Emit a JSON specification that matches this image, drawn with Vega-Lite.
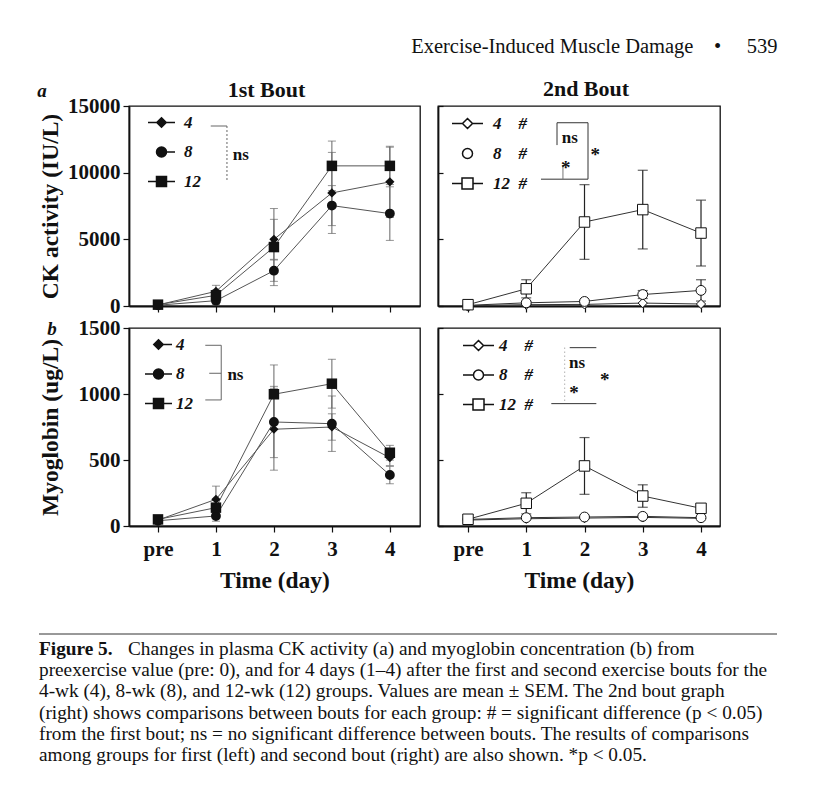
{
  "$schema": "https://vega.github.io/schema/vega-lite/v6.json",
  "background": "white",
  "padding": {"left": 37, "top": 37, "right": 5, "bottom": 5},
  "title": {"text": "Exercise-Induced Muscle Damage\u00a0\u00a0\u00a0\u00a0•\u00a0\u00a0\u00a0\u00a0\u00a0539", "anchor": "end", "frame": "bounds", "fontSize": 20.5, "fontWeight": "normal", "font": "Liberation Serif", "color": "#111", "offset": 20},
  "datasets": {
    "pts": [
      {"bout": "1st", "measure": "CK", "group": "4", "day": 0, "value": 80, "sem": 0},
      {"bout": "1st", "measure": "CK", "group": "4", "day": 1, "value": 1100, "sem": 450},
      {"bout": "1st", "measure": "CK", "group": "4", "day": 2, "value": 5000, "sem": 1500},
      {"bout": "1st", "measure": "CK", "group": "4", "day": 3, "value": 8480, "sem": 3040},
      {"bout": "1st", "measure": "CK", "group": "4", "day": 4, "value": 9310, "sem": 2670},
      {"bout": "1st", "measure": "CK", "group": "8", "day": 0, "value": 60, "sem": 0},
      {"bout": "1st", "measure": "CK", "group": "8", "day": 1, "value": 400, "sem": 300},
      {"bout": "1st", "measure": "CK", "group": "8", "day": 2, "value": 2650, "sem": 800},
      {"bout": "1st", "measure": "CK", "group": "8", "day": 3, "value": 7530, "sem": 1500},
      {"bout": "1st", "measure": "CK", "group": "8", "day": 4, "value": 6930, "sem": 2010},
      {"bout": "1st", "measure": "CK", "group": "12", "day": 0, "value": 100, "sem": 0},
      {"bout": "1st", "measure": "CK", "group": "12", "day": 1, "value": 800, "sem": 400},
      {"bout": "1st", "measure": "CK", "group": "12", "day": 2, "value": 4420, "sem": 2890},
      {"bout": "1st", "measure": "CK", "group": "12", "day": 3, "value": 10510, "sem": 1860},
      {"bout": "1st", "measure": "CK", "group": "12", "day": 4, "value": 10510, "sem": 1400},
      {"bout": "2nd", "measure": "CK", "group": "4", "day": 0, "value": 30, "sem": 0},
      {"bout": "2nd", "measure": "CK", "group": "4", "day": 1, "value": 100, "sem": 0},
      {"bout": "2nd", "measure": "CK", "group": "4", "day": 2, "value": 120, "sem": 0},
      {"bout": "2nd", "measure": "CK", "group": "4", "day": 3, "value": 220, "sem": 0},
      {"bout": "2nd", "measure": "CK", "group": "4", "day": 4, "value": 150, "sem": 0},
      {"bout": "2nd", "measure": "CK", "group": "8", "day": 0, "value": 50, "sem": 0},
      {"bout": "2nd", "measure": "CK", "group": "8", "day": 1, "value": 240, "sem": 100},
      {"bout": "2nd", "measure": "CK", "group": "8", "day": 2, "value": 340, "sem": 100},
      {"bout": "2nd", "measure": "CK", "group": "8", "day": 3, "value": 860, "sem": 300},
      {"bout": "2nd", "measure": "CK", "group": "8", "day": 4, "value": 1170, "sem": 800},
      {"bout": "2nd", "measure": "CK", "group": "12", "day": 0, "value": 100, "sem": 0},
      {"bout": "2nd", "measure": "CK", "group": "12", "day": 1, "value": 1290, "sem": 680},
      {"bout": "2nd", "measure": "CK", "group": "12", "day": 2, "value": 6300, "sem": 2800},
      {"bout": "2nd", "measure": "CK", "group": "12", "day": 3, "value": 7230, "sem": 2950},
      {"bout": "2nd", "measure": "CK", "group": "12", "day": 4, "value": 5470, "sem": 2470},
      {"bout": "1st", "measure": "Mb", "group": "4", "day": 0, "value": 45, "sem": 0},
      {"bout": "1st", "measure": "Mb", "group": "4", "day": 1, "value": 202, "sem": 100},
      {"bout": "1st", "measure": "Mb", "group": "4", "day": 2, "value": 733, "sem": 310},
      {"bout": "1st", "measure": "Mb", "group": "4", "day": 3, "value": 750, "sem": 100},
      {"bout": "1st", "measure": "Mb", "group": "4", "day": 4, "value": 517, "sem": 60},
      {"bout": "1st", "measure": "Mb", "group": "8", "day": 0, "value": 40, "sem": 0},
      {"bout": "1st", "measure": "Mb", "group": "8", "day": 1, "value": 76, "sem": 40},
      {"bout": "1st", "measure": "Mb", "group": "8", "day": 2, "value": 788, "sem": 270},
      {"bout": "1st", "measure": "Mb", "group": "8", "day": 3, "value": 775, "sem": 210},
      {"bout": "1st", "measure": "Mb", "group": "8", "day": 4, "value": 386, "sem": 66},
      {"bout": "1st", "measure": "Mb", "group": "12", "day": 0, "value": 50, "sem": 0},
      {"bout": "1st", "measure": "Mb", "group": "12", "day": 1, "value": 139, "sem": 60},
      {"bout": "1st", "measure": "Mb", "group": "12", "day": 2, "value": 998, "sem": 222},
      {"bout": "1st", "measure": "Mb", "group": "12", "day": 3, "value": 1078, "sem": 185},
      {"bout": "1st", "measure": "Mb", "group": "12", "day": 4, "value": 555, "sem": 56},
      {"bout": "2nd", "measure": "Mb", "group": "4", "day": 0, "value": 45, "sem": 0},
      {"bout": "2nd", "measure": "Mb", "group": "4", "day": 1, "value": 55, "sem": 0},
      {"bout": "2nd", "measure": "Mb", "group": "4", "day": 2, "value": 60, "sem": 0},
      {"bout": "2nd", "measure": "Mb", "group": "4", "day": 3, "value": 65, "sem": 0},
      {"bout": "2nd", "measure": "Mb", "group": "4", "day": 4, "value": 58, "sem": 0},
      {"bout": "2nd", "measure": "Mb", "group": "8", "day": 0, "value": 50, "sem": 0},
      {"bout": "2nd", "measure": "Mb", "group": "8", "day": 1, "value": 63, "sem": 0},
      {"bout": "2nd", "measure": "Mb", "group": "8", "day": 2, "value": 68, "sem": 0},
      {"bout": "2nd", "measure": "Mb", "group": "8", "day": 3, "value": 73, "sem": 0},
      {"bout": "2nd", "measure": "Mb", "group": "8", "day": 4, "value": 63, "sem": 0},
      {"bout": "2nd", "measure": "Mb", "group": "12", "day": 0, "value": 51, "sem": 0},
      {"bout": "2nd", "measure": "Mb", "group": "12", "day": 1, "value": 172, "sem": 80},
      {"bout": "2nd", "measure": "Mb", "group": "12", "day": 2, "value": 455, "sem": 215},
      {"bout": "2nd", "measure": "Mb", "group": "12", "day": 3, "value": 227, "sem": 85},
      {"bout": "2nd", "measure": "Mb", "group": "12", "day": 4, "value": 134, "sem": 0}
    ]
  },
  "spacing": 40,
  "vconcat": [
    {
      "spacing": -1,
      "vconcat": [
        {
          "title": {"text": "a", "anchor": "start", "frame": "bounds", "fontSize": 19, "fontStyle": "italic", "fontWeight": "bold", "font": "Liberation Serif", "color": "#111", "offset": -23},
          "spacing": 15,
          "hconcat": [
            {
              "width": 291, "height": 200,
              "title": {"text": "1st Bout", "fontSize": 22, "fontWeight": "bold", "font": "Liberation Serif", "color": "#111", "offset": -7, "dx": -8},
              "data": {"name": "pts"},
              "layer": [
                {"transform": [{"filter": "datum.bout == '1st' && datum.measure == 'CK' && datum.sem > 0"}],
                 "mark": {"type": "errorbar", "ticks": {"size": 8}, "color": "#666", "thickness": 1},
                 "encoding": {"x": {"field": "day", "type": "quantitative", "title": null}, "y": {"field": "value", "type": "quantitative", "title": "CK activity (IU/L)"}, "yError": {"field": "sem"}, "detail": {"field": "group"}}},
                {"transform": [{"filter": "datum.bout == '1st' && datum.measure == 'CK'"}],
                 "mark": {"type": "line", "color": "#555", "strokeWidth": 1},
                 "encoding": {
                   "x": {"field": "day", "type": "quantitative", "title": null, "scale": {"domain": [-0.5, 4.52], "nice": false, "zero": false},
                         "axis": {"values": [0, 1, 2, 3, 4], "format": "d", "labels": false, "tickSize": 6}},
                   "y": {"field": "value", "type": "quantitative", "title": "CK activity (IU/L)", "scale": {"domain": [0, 15000], "nice": false},
                         "axis": {"values": [0, 5000, 10000, 15000], "format": "d", "tickSize": 6, "labelPadding": 3, "minExtent": 58, "maxExtent": 58, "titlePadding": 9}},
                   "detail": {"field": "group"}}},
                {"transform": [{"filter": "datum.bout == '1st' && datum.measure == 'CK'"}],
                 "mark": {"type": "point", "filled": true, "color": "#111", "opacity": 1, "strokeWidth": 0},
                 "encoding": {
                   "x": {"field": "day", "type": "quantitative", "title": null}, "y": {"field": "value", "type": "quantitative", "title": "CK activity (IU/L)"},
                   "shape": {"field": "group", "scale": {"domain": ["4", "8", "12"], "range": ["diamond", "circle", "square"]}, "legend": null},
                   "size": {"field": "group", "scale": {"domain": ["4", "8", "12"], "range": [85, 110, 105]}, "legend": null}}},
                {"transform": [{"filter": "datum.bout == '1st' && datum.measure == 'CK'"}],
                 "mark": {"type": "point", "filled": true, "fill": "#111", "stroke": "#111", "strokeWidth": 1, "opacity": 0},
                 "encoding": {
                   "x": {"field": "day", "type": "quantitative", "title": null}, "y": {"field": "value", "type": "quantitative", "title": "CK activity (IU/L)"},
                   "shape": {"field": "group", "scale": {"domain": ["4", "8", "12"], "range": [
                       "M-2.7 0H-0.95M0.95 0H2.7M0 -0.95L0.95 0L0 0.95L-0.95 0Z",
                       "M1 0H2.7M1 0A1 1 0 1 1 -1 0A1 1 0 1 1 1 0Z",
                       "M-2.7 0H-1M1 0H2.7M-1 -1H1V1H-1Z"]},
                     "legend": {"orient": "none", "legendX": 24, "legendY": 8, "title": null, "padding": 0,
                       "labelFont": "Liberation Serif", "labelFontSize": 17, "labelFontStyle": "italic", "labelFontWeight": "bold", "labelColor": "#111",
                       "symbolSize": 100, "labelOffset": 14, "rowPadding": 11.5,
                       "encode": {"symbols": {"stroke": {"value": "#222"}, "strokeWidth": {"value": 1}, "fill": {"value": "#111"}, "opacity": {"value": 1}}}}}}},
                {"data": {"values": [{}]}, "mark": {"type": "rule", "color": "#666", "strokeWidth": 1},
                 "encoding": {"x": {"datum": 0.91}, "x2": {"datum": 1.19}, "y": {"datum": 13500}}},
                {"data": {"values": [{}]}, "mark": {"type": "rule", "color": "#666", "strokeWidth": 1, "strokeDash": [2, 2]},
                 "encoding": {"x": {"datum": 1.19}, "y": {"datum": 13500}, "y2": {"datum": 9440}}},
                {"data": {"values": [{}]}, "mark": {"type": "text", "text": "ns", "font": "Liberation Serif", "fontSize": 17, "fontWeight": "bold", "align": "center", "baseline": "middle", "color": "#111"},
                 "encoding": {"x": {"datum": 1.43}, "y": {"datum": 11300}}}
              ],
              "resolve": {"scale": {"shape": "independent"}}
            },
            {
              "width": 282, "height": 200,
              "title": {"text": "2nd Bout", "fontSize": 22, "fontWeight": "bold", "font": "Liberation Serif", "color": "#111", "offset": 4, "dx": 7},
              "data": {"name": "pts"},
              "layer": [
                {"transform": [{"filter": "datum.bout == '2nd' && datum.measure == 'CK' && datum.sem > 0"}],
                 "mark": {"type": "errorbar", "ticks": {"size": 10}, "color": "#222", "thickness": 1.2},
                 "encoding": {"x": {"field": "day", "type": "quantitative", "title": null}, "y": {"field": "value", "type": "quantitative", "title": null}, "yError": {"field": "sem"}, "detail": {"field": "group"}}},
                {"transform": [{"filter": "datum.bout == '2nd' && datum.measure == 'CK'"}],
                 "mark": {"type": "line", "color": "#333", "strokeWidth": 1},
                 "encoding": {
                   "x": {"field": "day", "type": "quantitative", "title": null, "scale": {"domain": [-0.515, 4.326], "nice": false, "zero": false},
                         "axis": {"values": [0, 1, 2, 3, 4], "format": "d", "labels": false, "tickSize": 6}},
                   "y": {"field": "value", "type": "quantitative", "title": null, "scale": {"domain": [0, 15000], "nice": false},
                         "axis": {"values": [0, 5000, 10000, 15000], "format": "d", "labels": false, "tickSize": -5}},
                   "detail": {"field": "group"}}},
                {"transform": [{"filter": "datum.bout == '2nd' && datum.measure == 'CK'"}],
                 "mark": {"type": "point", "filled": true, "fill": "white", "stroke": "#111", "strokeWidth": 1, "opacity": 1},
                 "encoding": {
                   "x": {"field": "day", "type": "quantitative", "title": null}, "y": {"field": "value", "type": "quantitative", "title": null},
                   "shape": {"field": "group", "scale": {"domain": ["4", "8", "12"], "range": ["diamond", "circle", "square"]}, "legend": null},
                   "size": {"field": "group", "scale": {"domain": ["4", "8", "12"], "range": [100, 120, 130]}, "legend": null}}},
                {"transform": [{"filter": "datum.bout == '2nd' && datum.measure == 'CK'"}],
                 "mark": {"type": "point", "filled": true, "fill": "white", "stroke": "#111", "strokeWidth": 1, "opacity": 0},
                 "encoding": {
                   "x": {"field": "day", "type": "quantitative", "title": null}, "y": {"field": "value", "type": "quantitative", "title": null},
                   "shape": {"field": "group", "scale": {"domain": ["4", "8", "12"], "range": [
                       "M-3.1 0H-1M1 0H3.1M0 -1L1 0L0 1L-1 0Z",
                       "M1 0A1 1 0 1 1 -1 0A1 1 0 1 1 1 0Z",
                       "M-3.1 0H-1.1M1.1 0H3.1M-1.1 -1.1H1.1V1.1H-1.1Z"]},
                     "legend": {"orient": "none", "legendX": 21, "legendY": 9, "title": null, "padding": 0,
                       "labelExpr": "datum.label == '12' ? '12\u00a0\u00a0#' : datum.label + '\u00a0\u00a0\u00a0\u00a0#'",
                       "labelFont": "Liberation Serif", "labelFontSize": 17, "labelFontStyle": "italic", "labelFontWeight": "bold", "labelColor": "#111",
                       "symbolSize": 100, "labelOffset": 17, "rowPadding": 12,
                       "encode": {"symbols": {"stroke": {"value": "#222"}, "strokeWidth": {"value": 1}, "fill": {"value": "white"}, "opacity": {"value": 1}}}}}}},
                {"data": {"values": [{}]}, "mark": {"type": "rule", "color": "#333", "strokeWidth": 1},
                 "encoding": {"x": {"datum": 1.528}, "y": {"datum": 13744}, "y2": {"datum": 12068}}},
                {"data": {"values": [{}]}, "mark": {"type": "rule", "color": "#333", "strokeWidth": 1},
                 "encoding": {"x": {"datum": 1.528}, "x2": {"datum": 2.06}, "y": {"datum": 13744}}},
                {"data": {"values": [{}]}, "mark": {"type": "rule", "color": "#333", "strokeWidth": 1},
                 "encoding": {"x": {"datum": 2.06}, "y": {"datum": 13744}, "y2": {"datum": 9511}}},
                {"data": {"values": [{}]}, "mark": {"type": "rule", "color": "#333", "strokeWidth": 1},
                 "encoding": {"x": {"datum": 1.253}, "x2": {"datum": 2.06}, "y": {"datum": 9511}}},
                {"data": {"values": [{}]}, "mark": {"type": "rule", "color": "#777", "strokeWidth": 1},
                 "encoding": {"x": {"datum": 1.63}, "y": {"datum": 10564}, "y2": {"datum": 9511}}},
                {"data": {"values": [{}]}, "mark": {"type": "text", "text": "ns", "font": "Liberation Serif", "fontSize": 17, "fontWeight": "bold", "align": "center", "baseline": "middle", "color": "#111"},
                 "encoding": {"x": {"datum": 1.746}, "y": {"datum": 12571}}},
                {"data": {"values": [{}]}, "mark": {"type": "text", "text": "*", "font": "Liberation Serif", "fontSize": 19, "fontWeight": "bold", "align": "center", "baseline": "middle", "dy": 2, "color": "#111"},
                 "encoding": {"x": {"datum": 2.186}, "y": {"datum": 11443}}},
                {"data": {"values": [{}]}, "mark": {"type": "text", "text": "*", "font": "Liberation Serif", "fontSize": 19, "fontWeight": "bold", "align": "center", "baseline": "middle", "dy": 0, "color": "#111"},
                 "encoding": {"x": {"datum": 1.677}, "y": {"datum": 10316}}}
              ],
              "resolve": {"scale": {"shape": "independent"}}
            }
          ]
        },
        {
          "title": {"text": "b", "anchor": "start", "frame": "bounds", "fontSize": 19, "fontStyle": "italic", "fontWeight": "bold", "font": "Liberation Serif", "color": "#111", "offset": -22.5, "dx": 10},
          "spacing": 15,
          "hconcat": [
            {
              "width": 291, "height": 198,
              "data": {"name": "pts"},
              "layer": [
                {"transform": [{"filter": "datum.bout == '1st' && datum.measure == 'Mb' && datum.sem > 0"}],
                 "mark": {"type": "errorbar", "ticks": {"size": 8}, "color": "#666", "thickness": 1},
                 "encoding": {"x": {"field": "day", "type": "quantitative", "title": "Time (day)"}, "y": {"field": "value", "type": "quantitative", "title": "Myoglobin (ug/L)"}, "yError": {"field": "sem"}, "detail": {"field": "group"}}},
                {"transform": [{"filter": "datum.bout == '1st' && datum.measure == 'Mb'"}],
                 "mark": {"type": "line", "color": "#555", "strokeWidth": 1},
                 "encoding": {
                   "x": {"field": "day", "type": "quantitative", "title": "Time (day)", "scale": {"domain": [-0.5, 4.52], "nice": false, "zero": false},
                         "axis": {"values": [0, 1, 2, 3, 4], "format": "d", "labelExpr": "datum.value == 0 ? 'pre' : datum.label", "tickSize": 6, "labelPadding": 6, "titlePadding": 9}},
                   "y": {"field": "value", "type": "quantitative", "title": "Myoglobin (ug/L)", "scale": {"domain": [0, 1500], "nice": false},
                         "axis": {"values": [0, 500, 1000, 1500], "format": "d", "tickSize": 6, "labelPadding": 3, "minExtent": 58, "maxExtent": 58, "titlePadding": 9}},
                   "detail": {"field": "group"}}},
                {"transform": [{"filter": "datum.bout == '1st' && datum.measure == 'Mb'"}],
                 "mark": {"type": "point", "filled": true, "color": "#111", "opacity": 1, "strokeWidth": 0},
                 "encoding": {
                   "x": {"field": "day", "type": "quantitative", "title": "Time (day)"}, "y": {"field": "value", "type": "quantitative", "title": "Myoglobin (ug/L)"},
                   "shape": {"field": "group", "scale": {"domain": ["4", "8", "12"], "range": ["diamond", "circle", "square"]}, "legend": null},
                   "size": {"field": "group", "scale": {"domain": ["4", "8", "12"], "range": [85, 110, 105]}, "legend": null}}},
                {"transform": [{"filter": "datum.bout == '1st' && datum.measure == 'Mb'"}],
                 "mark": {"type": "point", "filled": true, "fill": "#111", "stroke": "#111", "strokeWidth": 1, "opacity": 0},
                 "encoding": {
                   "x": {"field": "day", "type": "quantitative", "title": "Time (day)"}, "y": {"field": "value", "type": "quantitative", "title": "Myoglobin (ug/L)"},
                   "shape": {"field": "group", "scale": {"domain": ["4", "8", "12"], "range": [
                       "M0.95 0H2.7M0 -0.95L0.95 0L0 0.95L-0.95 0Z",
                       "M-2.7 0H-1M1 0H2.7M1 0A1 1 0 1 1 -1 0A1 1 0 1 1 1 0Z",
                       "M-2.7 0H-1M1 0H2.7M-1 -1H1V1H-1Z"]},
                     "legend": {"orient": "none", "legendX": 21, "legendY": 8, "title": null, "padding": 0,
                       "labelFont": "Liberation Serif", "labelFontSize": 17, "labelFontStyle": "italic", "labelFontWeight": "bold", "labelColor": "#111",
                       "symbolSize": 100, "labelOffset": 9, "rowPadding": 11.5,
                       "encode": {"symbols": {"stroke": {"value": "#222"}, "strokeWidth": {"value": 1}, "fill": {"value": "#111"}, "opacity": {"value": 1}}}}}}},
                {"data": {"values": [{}]}, "mark": {"type": "rule", "color": "#666", "strokeWidth": 1},
                 "encoding": {"x": {"datum": 0.816}, "x2": {"datum": 1.091}, "y": {"datum": 1369}}},
                {"data": {"values": [{}]}, "mark": {"type": "rule", "color": "#666", "strokeWidth": 1},
                 "encoding": {"x": {"datum": 1.091}, "y": {"datum": 1369}, "y2": {"datum": 955}}},
                {"data": {"values": [{}]}, "mark": {"type": "rule", "color": "#666", "strokeWidth": 1},
                 "encoding": {"x": {"datum": 0.816}, "x2": {"datum": 1.091}, "y": {"datum": 955}}},
                {"data": {"values": [{}]}, "mark": {"type": "rule", "color": "#666", "strokeWidth": 1},
                 "encoding": {"x": {"datum": 0.884}, "x2": {"datum": 1.091}, "y": {"datum": 1157}}},
                {"data": {"values": [{}]}, "mark": {"type": "text", "text": "ns", "font": "Liberation Serif", "fontSize": 17, "fontWeight": "bold", "align": "center", "baseline": "middle", "color": "#111"},
                 "encoding": {"x": {"datum": 1.336}, "y": {"datum": 1144}}}
              ],
              "resolve": {"scale": {"shape": "independent"}}
            },
            {
              "width": 282, "height": 198,
              "data": {"name": "pts"},
              "layer": [
                {"transform": [{"filter": "datum.bout == '2nd' && datum.measure == 'Mb' && datum.sem > 0"}],
                 "mark": {"type": "errorbar", "ticks": {"size": 10}, "color": "#222", "thickness": 1.2},
                 "encoding": {"x": {"field": "day", "type": "quantitative", "title": "Time (day)"}, "y": {"field": "value", "type": "quantitative", "title": null}, "yError": {"field": "sem"}, "detail": {"field": "group"}}},
                {"transform": [{"filter": "datum.bout == '2nd' && datum.measure == 'Mb'"}],
                 "mark": {"type": "line", "color": "#333", "strokeWidth": 1},
                 "encoding": {
                   "x": {"field": "day", "type": "quantitative", "title": "Time (day)", "scale": {"domain": [-0.515, 4.326], "nice": false, "zero": false},
                         "axis": {"values": [0, 1, 2, 3, 4], "format": "d", "labelExpr": "datum.value == 0 ? 'pre' : datum.label", "tickSize": 6, "labelPadding": 6, "titlePadding": 9}},
                   "y": {"field": "value", "type": "quantitative", "title": null, "scale": {"domain": [0, 1500], "nice": false},
                         "axis": {"values": [0, 500, 1000, 1500], "format": "d", "labels": false, "tickSize": -5}},
                   "detail": {"field": "group"}}},
                {"transform": [{"filter": "datum.bout == '2nd' && datum.measure == 'Mb'"}],
                 "mark": {"type": "point", "filled": true, "fill": "white", "stroke": "#111", "strokeWidth": 1, "opacity": 1},
                 "encoding": {
                   "x": {"field": "day", "type": "quantitative", "title": "Time (day)"}, "y": {"field": "value", "type": "quantitative", "title": null},
                   "shape": {"field": "group", "scale": {"domain": ["4", "8", "12"], "range": ["diamond", "circle", "square"]}, "legend": null},
                   "size": {"field": "group", "scale": {"domain": ["4", "8", "12"], "range": [100, 120, 130]}, "legend": null}}},
                {"transform": [{"filter": "datum.bout == '2nd' && datum.measure == 'Mb'"}],
                 "mark": {"type": "point", "filled": true, "fill": "white", "stroke": "#111", "strokeWidth": 1, "opacity": 0},
                 "encoding": {
                   "x": {"field": "day", "type": "quantitative", "title": "Time (day)"}, "y": {"field": "value", "type": "quantitative", "title": null},
                   "shape": {"field": "group", "scale": {"domain": ["4", "8", "12"], "range": [
                       "M-3.1 0H-1M1 0H3.1M0 -1L1 0L0 1L-1 0Z",
                       "M-3.1 0H-1M1 0H3.1M1 0A1 1 0 1 1 -1 0A1 1 0 1 1 1 0Z",
                       "M-3.1 0H-1.1M1.1 0H3.1M-1.1 -1.1H1.1V1.1H-1.1Z"]},
                     "legend": {"orient": "none", "legendX": 32, "legendY": 9, "title": null, "padding": 0,
                       "labelExpr": "datum.label == '12' ? '12\u00a0\u00a0#' : datum.label + '\u00a0\u00a0\u00a0\u00a0#'",
                       "labelFont": "Liberation Serif", "labelFontSize": 17, "labelFontStyle": "italic", "labelFontWeight": "bold", "labelColor": "#111",
                       "symbolSize": 100, "labelOffset": 12, "rowPadding": 11.5,
                       "encode": {"symbols": {"stroke": {"value": "#222"}, "strokeWidth": {"value": 1}, "fill": {"value": "white"}, "opacity": {"value": 1}}}}}}},
                {"data": {"values": [{}]}, "mark": {"type": "rule", "color": "#888", "strokeWidth": 1, "strokeDash": [1, 3]},
                 "encoding": {"x": {"datum": 1.66}, "y": {"datum": 1351}, "y2": {"datum": 927}}},
                {"data": {"values": [{}]}, "mark": {"type": "rule", "color": "#333", "strokeWidth": 1},
                 "encoding": {"x": {"datum": 1.746}, "x2": {"datum": 2.203}, "y": {"datum": 1351}}},
                {"data": {"values": [{}]}, "mark": {"type": "rule", "color": "#333", "strokeWidth": 1},
                 "encoding": {"x": {"datum": 1.43}, "x2": {"datum": 2.203}, "y": {"datum": 927}}},
                {"data": {"values": [{}]}, "mark": {"type": "text", "text": "ns", "font": "Liberation Serif", "fontSize": 17, "fontWeight": "bold", "align": "center", "baseline": "middle", "color": "#111"},
                 "encoding": {"x": {"datum": 1.871}, "y": {"datum": 1235}}},
                {"data": {"values": [{}]}, "mark": {"type": "text", "text": "*", "font": "Liberation Serif", "fontSize": 19, "fontWeight": "bold", "align": "center", "baseline": "middle", "dy": 2, "color": "#111"},
                 "encoding": {"x": {"datum": 2.347}, "y": {"datum": 1121}}},
                {"data": {"values": [{}]}, "mark": {"type": "text", "text": "*", "font": "Liberation Serif", "fontSize": 19, "fontWeight": "bold", "align": "center", "baseline": "middle", "dy": 1, "color": "#111"},
                 "encoding": {"x": {"datum": 1.82}, "y": {"datum": 1015}}}
              ],
              "resolve": {"scale": {"shape": "independent"}}
            }
          ]
        }
      ]
    },
    {
      "width": 648, "height": 136,
      "view": {"stroke": null},
      "data": {"values": [
        {"line": 1, "part": "label", "text": "Figure 5."},
        {"line": 1, "part": "first", "text": "Changes in plasma CK activity (a) and myoglobin concentration (b) from"},
        {"line": 2, "part": "body", "text": "preexercise value (pre: 0), and for 4 days (1–4) after the first and second exercise bouts for the"},
        {"line": 3, "part": "body", "text": "4-wk (4), 8-wk (8), and 12-wk (12) groups. Values are mean ± SEM. The 2nd bout graph"},
        {"line": 4, "part": "body", "text": "(right) shows comparisons between bouts for each group: # = significant difference (p < 0.05)"},
        {"line": 5, "part": "body", "text": "from the first bout; ns = no significant difference between bouts. The results of comparisons"},
        {"line": 6, "part": "body", "text": "among groups for first (left) and second bout (right) are also shown. *p < 0.05."}
      ]},
      "encoding": {"y": {"field": "line", "type": "ordinal", "scale": {"type": "point", "padding": 0.7}, "axis": null}},
      "layer": [
        {"data": {"values": [{}]}, "mark": {"type": "rule", "color": "#333", "strokeWidth": 1},
         "encoding": {"x": {"value": -90}, "x2": {"value": 648}, "y": {"value": 0}}},
        {"transform": [{"filter": "datum.part == 'label'"}],
         "mark": {"type": "text", "align": "left", "baseline": "middle", "font": "Liberation Serif", "fontSize": 19.3, "fontWeight": "bold", "color": "#111"},
         "encoding": {"x": {"value": -90}, "text": {"field": "text"}}},
        {"transform": [{"filter": "datum.part == 'first'"}],
         "mark": {"type": "text", "align": "left", "baseline": "middle", "font": "Liberation Serif", "fontSize": 19.3, "color": "#111"},
         "encoding": {"x": {"value": -1}, "text": {"field": "text"}}},
        {"transform": [{"filter": "datum.part == 'body'"}],
         "mark": {"type": "text", "align": "left", "baseline": "middle", "font": "Liberation Serif", "fontSize": 19.3, "color": "#111"},
         "encoding": {"x": {"value": -90}, "text": {"field": "text"}}}
      ]
    }
  ],
  "config": {
    "font": "Liberation Serif",
    "view": {"stroke": "#111", "strokeWidth": 1.3},
    "axis": {"grid": false, "domainColor": "#111", "tickColor": "#111", "domainWidth": 1.8, "tickWidth": 1.2,
             "labelColor": "#111", "titleColor": "#111", "labelFont": "Liberation Serif", "titleFont": "Liberation Serif",
             "labelFontSize": 21, "labelFontWeight": "bold", "titleFontSize": 23.5, "titleFontWeight": "bold"},
    "title": {"font": "Liberation Serif", "color": "#111"}
  }
}
